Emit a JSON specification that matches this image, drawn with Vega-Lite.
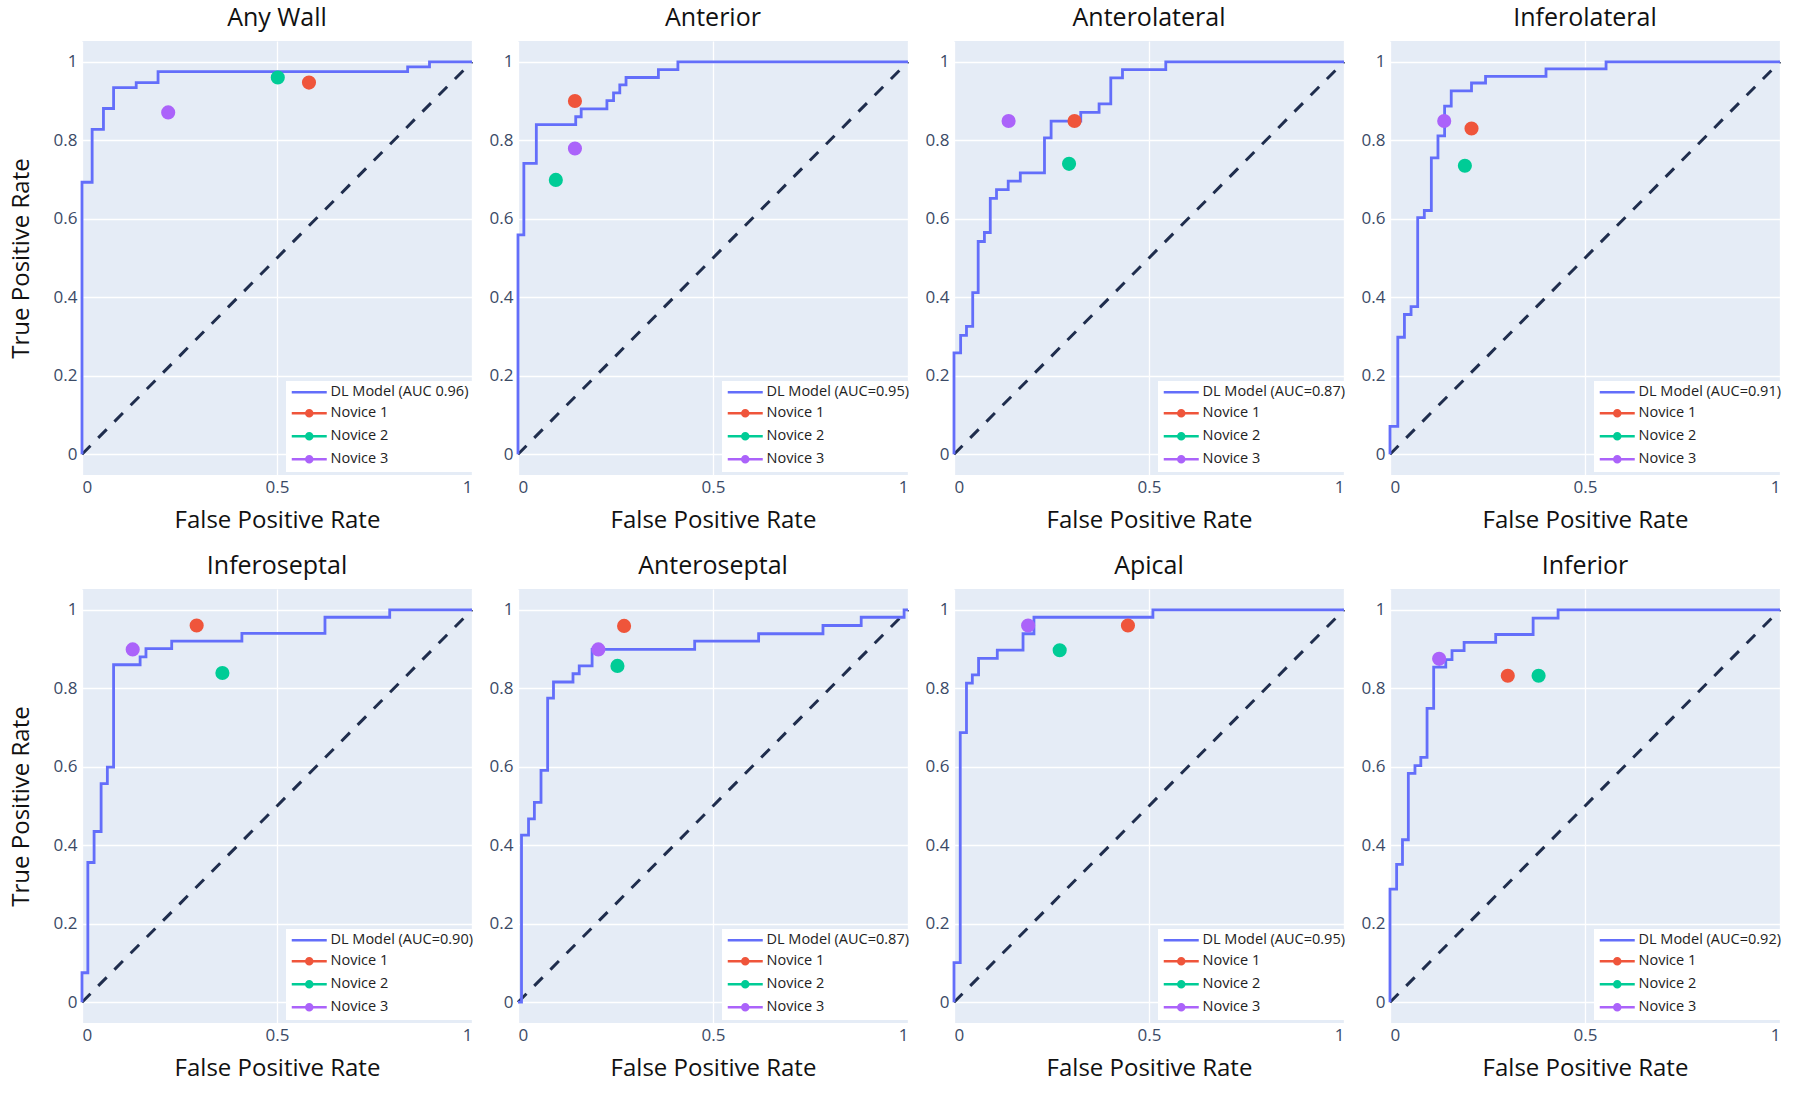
{
"$schema":"https://vega.github.io/schema/vega-lite/v6.json",
"background":"white",
"padding":{"left":9,"top":6,"right":5,"bottom":6},
"datasets":{
"diag":[{"x":0,"y":0},{"x":1,"y":1}],
"roc":[
{"p":"Any Wall","x":0,"y":0},{"p":"Any Wall","x":0,"y":0.693},{"p":"Any Wall","x":0.026,"y":0.693},{"p":"Any Wall","x":0.026,"y":0.828},{"p":"Any Wall","x":0.055,"y":0.828},{"p":"Any Wall","x":0.055,"y":0.881},{"p":"Any Wall","x":0.081,"y":0.881},{"p":"Any Wall","x":0.081,"y":0.934},{"p":"Any Wall","x":0.139,"y":0.934},{"p":"Any Wall","x":0.139,"y":0.947},{"p":"Any Wall","x":0.195,"y":0.947},{"p":"Any Wall","x":0.195,"y":0.975},{"p":"Any Wall","x":0.835,"y":0.975},{"p":"Any Wall","x":0.835,"y":0.987},{"p":"Any Wall","x":0.891,"y":0.987},{"p":"Any Wall","x":0.891,"y":1},{"p":"Any Wall","x":1,"y":1},
{"p":"Anterior","x":0,"y":0},{"p":"Anterior","x":0,"y":0.559},{"p":"Anterior","x":0.015,"y":0.559},{"p":"Anterior","x":0.015,"y":0.741},{"p":"Anterior","x":0.047,"y":0.741},{"p":"Anterior","x":0.047,"y":0.84},{"p":"Anterior","x":0.148,"y":0.84},{"p":"Anterior","x":0.148,"y":0.86},{"p":"Anterior","x":0.162,"y":0.86},{"p":"Anterior","x":0.162,"y":0.88},{"p":"Anterior","x":0.228,"y":0.88},{"p":"Anterior","x":0.228,"y":0.901},{"p":"Anterior","x":0.245,"y":0.901},{"p":"Anterior","x":0.245,"y":0.921},{"p":"Anterior","x":0.261,"y":0.921},{"p":"Anterior","x":0.261,"y":0.941},{"p":"Anterior","x":0.277,"y":0.941},{"p":"Anterior","x":0.277,"y":0.96},{"p":"Anterior","x":0.36,"y":0.96},{"p":"Anterior","x":0.36,"y":0.98},{"p":"Anterior","x":0.41,"y":0.98},{"p":"Anterior","x":0.41,"y":1},{"p":"Anterior","x":1,"y":1},
{"p":"Anterolateral","x":0,"y":0},{"p":"Anterolateral","x":0,"y":0.258},{"p":"Anterolateral","x":0.017,"y":0.258},{"p":"Anterolateral","x":0.017,"y":0.303},{"p":"Anterolateral","x":0.032,"y":0.303},{"p":"Anterolateral","x":0.032,"y":0.326},{"p":"Anterolateral","x":0.048,"y":0.326},{"p":"Anterolateral","x":0.048,"y":0.412},{"p":"Anterolateral","x":0.062,"y":0.412},{"p":"Anterolateral","x":0.062,"y":0.542},{"p":"Anterolateral","x":0.078,"y":0.542},{"p":"Anterolateral","x":0.078,"y":0.565},{"p":"Anterolateral","x":0.093,"y":0.565},{"p":"Anterolateral","x":0.093,"y":0.652},{"p":"Anterolateral","x":0.109,"y":0.652},{"p":"Anterolateral","x":0.109,"y":0.674},{"p":"Anterolateral","x":0.139,"y":0.674},{"p":"Anterolateral","x":0.139,"y":0.696},{"p":"Anterolateral","x":0.17,"y":0.696},{"p":"Anterolateral","x":0.17,"y":0.717},{"p":"Anterolateral","x":0.232,"y":0.717},{"p":"Anterolateral","x":0.232,"y":0.806},{"p":"Anterolateral","x":0.249,"y":0.806},{"p":"Anterolateral","x":0.249,"y":0.849},{"p":"Anterolateral","x":0.325,"y":0.849},{"p":"Anterolateral","x":0.325,"y":0.871},{"p":"Anterolateral","x":0.372,"y":0.871},{"p":"Anterolateral","x":0.372,"y":0.893},{"p":"Anterolateral","x":0.402,"y":0.893},{"p":"Anterolateral","x":0.402,"y":0.959},{"p":"Anterolateral","x":0.432,"y":0.959},{"p":"Anterolateral","x":0.432,"y":0.98},{"p":"Anterolateral","x":0.543,"y":0.98},{"p":"Anterolateral","x":0.543,"y":1},{"p":"Anterolateral","x":1,"y":1},
{"p":"Inferolateral","x":0,"y":0},{"p":"Inferolateral","x":0,"y":0.071},{"p":"Inferolateral","x":0.02,"y":0.071},{"p":"Inferolateral","x":0.02,"y":0.298},{"p":"Inferolateral","x":0.037,"y":0.298},{"p":"Inferolateral","x":0.037,"y":0.356},{"p":"Inferolateral","x":0.054,"y":0.356},{"p":"Inferolateral","x":0.054,"y":0.376},{"p":"Inferolateral","x":0.071,"y":0.376},{"p":"Inferolateral","x":0.071,"y":0.603},{"p":"Inferolateral","x":0.088,"y":0.603},{"p":"Inferolateral","x":0.088,"y":0.621},{"p":"Inferolateral","x":0.106,"y":0.621},{"p":"Inferolateral","x":0.106,"y":0.755},{"p":"Inferolateral","x":0.123,"y":0.755},{"p":"Inferolateral","x":0.123,"y":0.811},{"p":"Inferolateral","x":0.14,"y":0.811},{"p":"Inferolateral","x":0.14,"y":0.887},{"p":"Inferolateral","x":0.157,"y":0.887},{"p":"Inferolateral","x":0.157,"y":0.926},{"p":"Inferolateral","x":0.209,"y":0.926},{"p":"Inferolateral","x":0.209,"y":0.946},{"p":"Inferolateral","x":0.245,"y":0.946},{"p":"Inferolateral","x":0.245,"y":0.963},{"p":"Inferolateral","x":0.4,"y":0.963},{"p":"Inferolateral","x":0.4,"y":0.982},{"p":"Inferolateral","x":0.554,"y":0.982},{"p":"Inferolateral","x":0.554,"y":1},{"p":"Inferolateral","x":1,"y":1},
{"p":"Inferoseptal","x":0,"y":0},{"p":"Inferoseptal","x":0,"y":0.075},{"p":"Inferoseptal","x":0.015,"y":0.075},{"p":"Inferoseptal","x":0.015,"y":0.356},{"p":"Inferoseptal","x":0.031,"y":0.356},{"p":"Inferoseptal","x":0.031,"y":0.435},{"p":"Inferoseptal","x":0.049,"y":0.435},{"p":"Inferoseptal","x":0.049,"y":0.557},{"p":"Inferoseptal","x":0.065,"y":0.557},{"p":"Inferoseptal","x":0.065,"y":0.599},{"p":"Inferoseptal","x":0.081,"y":0.599},{"p":"Inferoseptal","x":0.081,"y":0.86},{"p":"Inferoseptal","x":0.149,"y":0.86},{"p":"Inferoseptal","x":0.149,"y":0.88},{"p":"Inferoseptal","x":0.164,"y":0.88},{"p":"Inferoseptal","x":0.164,"y":0.901},{"p":"Inferoseptal","x":0.23,"y":0.901},{"p":"Inferoseptal","x":0.23,"y":0.92},{"p":"Inferoseptal","x":0.41,"y":0.92},{"p":"Inferoseptal","x":0.41,"y":0.94},{"p":"Inferoseptal","x":0.623,"y":0.94},{"p":"Inferoseptal","x":0.623,"y":0.981},{"p":"Inferoseptal","x":0.789,"y":0.981},{"p":"Inferoseptal","x":0.789,"y":1},{"p":"Inferoseptal","x":1,"y":1},
{"p":"Anteroseptal","x":0,"y":0},{"p":"Anteroseptal","x":0.009,"y":0},{"p":"Anteroseptal","x":0.009,"y":0.426},{"p":"Anteroseptal","x":0.027,"y":0.426},{"p":"Anteroseptal","x":0.027,"y":0.467},{"p":"Anteroseptal","x":0.042,"y":0.467},{"p":"Anteroseptal","x":0.042,"y":0.509},{"p":"Anteroseptal","x":0.059,"y":0.509},{"p":"Anteroseptal","x":0.059,"y":0.591},{"p":"Anteroseptal","x":0.076,"y":0.591},{"p":"Anteroseptal","x":0.076,"y":0.775},{"p":"Anteroseptal","x":0.091,"y":0.775},{"p":"Anteroseptal","x":0.091,"y":0.816},{"p":"Anteroseptal","x":0.141,"y":0.816},{"p":"Anteroseptal","x":0.141,"y":0.837},{"p":"Anteroseptal","x":0.157,"y":0.837},{"p":"Anteroseptal","x":0.157,"y":0.857},{"p":"Anteroseptal","x":0.19,"y":0.857},{"p":"Anteroseptal","x":0.19,"y":0.899},{"p":"Anteroseptal","x":0.453,"y":0.899},{"p":"Anteroseptal","x":0.453,"y":0.92},{"p":"Anteroseptal","x":0.617,"y":0.92},{"p":"Anteroseptal","x":0.617,"y":0.939},{"p":"Anteroseptal","x":0.782,"y":0.939},{"p":"Anteroseptal","x":0.782,"y":0.96},{"p":"Anteroseptal","x":0.88,"y":0.96},{"p":"Anteroseptal","x":0.88,"y":0.981},{"p":"Anteroseptal","x":0.99,"y":0.981},{"p":"Anteroseptal","x":0.99,"y":1},{"p":"Anteroseptal","x":1,"y":1},
{"p":"Apical","x":0,"y":0},{"p":"Apical","x":0,"y":0.101},{"p":"Apical","x":0.016,"y":0.101},{"p":"Apical","x":0.016,"y":0.687},{"p":"Apical","x":0.032,"y":0.687},{"p":"Apical","x":0.032,"y":0.813},{"p":"Apical","x":0.047,"y":0.813},{"p":"Apical","x":0.047,"y":0.834},{"p":"Apical","x":0.063,"y":0.834},{"p":"Apical","x":0.063,"y":0.876},{"p":"Apical","x":0.111,"y":0.876},{"p":"Apical","x":0.111,"y":0.897},{"p":"Apical","x":0.177,"y":0.897},{"p":"Apical","x":0.177,"y":0.939},{"p":"Apical","x":0.205,"y":0.939},{"p":"Apical","x":0.205,"y":0.981},{"p":"Apical","x":0.51,"y":0.981},{"p":"Apical","x":0.51,"y":1},{"p":"Apical","x":1,"y":1},
{"p":"Inferior","x":0,"y":0},{"p":"Inferior","x":0,"y":0.288},{"p":"Inferior","x":0.017,"y":0.288},{"p":"Inferior","x":0.017,"y":0.351},{"p":"Inferior","x":0.032,"y":0.351},{"p":"Inferior","x":0.032,"y":0.414},{"p":"Inferior","x":0.047,"y":0.414},{"p":"Inferior","x":0.047,"y":0.583},{"p":"Inferior","x":0.064,"y":0.583},{"p":"Inferior","x":0.064,"y":0.603},{"p":"Inferior","x":0.079,"y":0.603},{"p":"Inferior","x":0.079,"y":0.624},{"p":"Inferior","x":0.095,"y":0.624},{"p":"Inferior","x":0.095,"y":0.749},{"p":"Inferior","x":0.112,"y":0.749},{"p":"Inferior","x":0.112,"y":0.854},{"p":"Inferior","x":0.143,"y":0.854},{"p":"Inferior","x":0.143,"y":0.873},{"p":"Inferior","x":0.159,"y":0.873},{"p":"Inferior","x":0.159,"y":0.896},{"p":"Inferior","x":0.19,"y":0.896},{"p":"Inferior","x":0.19,"y":0.917},{"p":"Inferior","x":0.271,"y":0.917},{"p":"Inferior","x":0.271,"y":0.937},{"p":"Inferior","x":0.367,"y":0.937},{"p":"Inferior","x":0.367,"y":0.979},{"p":"Inferior","x":0.431,"y":0.979},{"p":"Inferior","x":0.431,"y":1},{"p":"Inferior","x":1,"y":1}
],
"readers":[
{"p":"Any Wall","s":"Novice 1","x":0.582,"y":0.947},{"p":"Any Wall","s":"Novice 2","x":0.502,"y":0.96},{"p":"Any Wall","s":"Novice 3","x":0.221,"y":0.871},
{"p":"Anterior","s":"Novice 1","x":0.146,"y":0.9},{"p":"Anterior","s":"Novice 2","x":0.097,"y":0.699},{"p":"Anterior","s":"Novice 3","x":0.146,"y":0.779},
{"p":"Anterolateral","s":"Novice 1","x":0.309,"y":0.849},{"p":"Anterolateral","s":"Novice 2","x":0.295,"y":0.74},{"p":"Anterolateral","s":"Novice 3","x":0.14,"y":0.849},
{"p":"Inferolateral","s":"Novice 1","x":0.209,"y":0.83},{"p":"Inferolateral","s":"Novice 2","x":0.192,"y":0.735},{"p":"Inferolateral","s":"Novice 3","x":0.139,"y":0.849},
{"p":"Inferoseptal","s":"Novice 1","x":0.294,"y":0.96},{"p":"Inferoseptal","s":"Novice 2","x":0.36,"y":0.839},{"p":"Inferoseptal","s":"Novice 3","x":0.13,"y":0.899},
{"p":"Anteroseptal","s":"Novice 1","x":0.272,"y":0.959},{"p":"Anteroseptal","s":"Novice 2","x":0.255,"y":0.857},{"p":"Anteroseptal","s":"Novice 3","x":0.206,"y":0.899},
{"p":"Apical","s":"Novice 1","x":0.446,"y":0.96},{"p":"Apical","s":"Novice 2","x":0.271,"y":0.897},{"p":"Apical","s":"Novice 3","x":0.19,"y":0.96},
{"p":"Inferior","s":"Novice 1","x":0.302,"y":0.832},{"p":"Inferior","s":"Novice 2","x":0.381,"y":0.832},{"p":"Inferior","s":"Novice 3","x":0.126,"y":0.875}
]
},
"columns":4,
"spacing":{"row":114,"column":46},
"bounds":"flush",
"resolve":{"scale":{"color":"independent"},"legend":{"color":"independent"}},
"concat":[
{"width":390,"height":434,"title":"Any Wall",
"encoding":{"x":{"field":"x","type":"quantitative","scale":{"domain":[0,1],"nice":false},"axis":{"values":[0,0.5,1],"format":"~g","title":"False Positive Rate"}},"y":{"field":"y","type":"quantitative","scale":{"domain":[-0.053,1.053],"nice":false,"zero":false},"axis":{"values":[0,0.2,0.4,0.6,0.8,1],"format":"~g","title":"True Positive Rate"}}},
"layer":[
{"data":{"name":"diag"},"mark":{"type":"line","color":"#1f2d4d","strokeDash":[12,11],"strokeWidth":3},"encoding":{}},
{"data":{"name":"roc"},"transform":[{"filter":"datum.p=='Any Wall'"}],"mark":{"type":"line","strokeWidth":2.8},"encoding":{"order":[{"field":"x","type":"quantitative"},{"field":"y","type":"quantitative"}],"color":{"datum":"DL Model (AUC 0.96)","scale":{"domain":["DL Model (AUC 0.96)","Novice 1","Novice 2","Novice 3"],"range":["#636EFA","#EF553B","#00CC96","#AB63FA"]},"legend":{"title":null,"orient":"none","legendX":204,"legendY":340,"encode":{"symbols":{"update":{"shape":{"signal":"indexof(datum.value,'Novice')==0 ? 'M-3.5,0L3.5,0M0.6,0A0.6,0.6 0 1 1 -0.6,0A0.6,0.6 0 1 1 0.6,0Z' : 'M-3.5,0L3.5,0'"},"fill":{"signal":"datum.value=='Novice 1'?'#EF553B':datum.value=='Novice 2'?'#00CC96':datum.value=='Novice 3'?'#AB63FA':'transparent'"},"stroke":{"signal":"datum.value=='Novice 1'?'#EF553B':datum.value=='Novice 2'?'#00CC96':datum.value=='Novice 3'?'#AB63FA':'#636EFA'"},"opacity":{"value":1}}}}}}}},
{"data":{"name":"readers"},"transform":[{"filter":"datum.p=='Any Wall'"}],"mark":{"type":"circle","size":200,"opacity":1},"encoding":{"color":{"field":"s","type":"nominal","title":null,"scale":{"domain":["DL Model (AUC 0.96)","Novice 1","Novice 2","Novice 3"],"range":["#636EFA","#EF553B","#00CC96","#AB63FA"]},"legend":{"title":null,"orient":"none","legendX":204,"legendY":340}}}}
]},
{"width":390,"height":434,"title":"Anterior",
"encoding":{"x":{"field":"x","type":"quantitative","scale":{"domain":[0,1],"nice":false},"axis":{"values":[0,0.5,1],"format":"~g","title":"False Positive Rate"}},"y":{"field":"y","type":"quantitative","scale":{"domain":[-0.053,1.053],"nice":false,"zero":false},"axis":{"values":[0,0.2,0.4,0.6,0.8,1],"format":"~g","title":null}}},
"layer":[
{"data":{"name":"diag"},"mark":{"type":"line","color":"#1f2d4d","strokeDash":[12,11],"strokeWidth":3},"encoding":{}},
{"data":{"name":"roc"},"transform":[{"filter":"datum.p=='Anterior'"}],"mark":{"type":"line","strokeWidth":2.8},"encoding":{"order":[{"field":"x","type":"quantitative"},{"field":"y","type":"quantitative"}],"color":{"datum":"DL Model (AUC=0.95)","scale":{"domain":["DL Model (AUC=0.95)","Novice 1","Novice 2","Novice 3"],"range":["#636EFA","#EF553B","#00CC96","#AB63FA"]},"legend":{"title":null,"orient":"none","legendX":204,"legendY":340,"encode":{"symbols":{"update":{"shape":{"signal":"indexof(datum.value,'Novice')==0 ? 'M-3.5,0L3.5,0M0.6,0A0.6,0.6 0 1 1 -0.6,0A0.6,0.6 0 1 1 0.6,0Z' : 'M-3.5,0L3.5,0'"},"fill":{"signal":"datum.value=='Novice 1'?'#EF553B':datum.value=='Novice 2'?'#00CC96':datum.value=='Novice 3'?'#AB63FA':'transparent'"},"stroke":{"signal":"datum.value=='Novice 1'?'#EF553B':datum.value=='Novice 2'?'#00CC96':datum.value=='Novice 3'?'#AB63FA':'#636EFA'"},"opacity":{"value":1}}}}}}}},
{"data":{"name":"readers"},"transform":[{"filter":"datum.p=='Anterior'"}],"mark":{"type":"circle","size":200,"opacity":1},"encoding":{"color":{"field":"s","type":"nominal","title":null,"scale":{"domain":["DL Model (AUC=0.95)","Novice 1","Novice 2","Novice 3"],"range":["#636EFA","#EF553B","#00CC96","#AB63FA"]},"legend":{"title":null,"orient":"none","legendX":204,"legendY":340}}}}
]},
{"width":390,"height":434,"title":"Anterolateral",
"encoding":{"x":{"field":"x","type":"quantitative","scale":{"domain":[0,1],"nice":false},"axis":{"values":[0,0.5,1],"format":"~g","title":"False Positive Rate"}},"y":{"field":"y","type":"quantitative","scale":{"domain":[-0.053,1.053],"nice":false,"zero":false},"axis":{"values":[0,0.2,0.4,0.6,0.8,1],"format":"~g","title":null}}},
"layer":[
{"data":{"name":"diag"},"mark":{"type":"line","color":"#1f2d4d","strokeDash":[12,11],"strokeWidth":3},"encoding":{}},
{"data":{"name":"roc"},"transform":[{"filter":"datum.p=='Anterolateral'"}],"mark":{"type":"line","strokeWidth":2.8},"encoding":{"order":[{"field":"x","type":"quantitative"},{"field":"y","type":"quantitative"}],"color":{"datum":"DL Model (AUC=0.87)","scale":{"domain":["DL Model (AUC=0.87)","Novice 1","Novice 2","Novice 3"],"range":["#636EFA","#EF553B","#00CC96","#AB63FA"]},"legend":{"title":null,"orient":"none","legendX":204,"legendY":340,"encode":{"symbols":{"update":{"shape":{"signal":"indexof(datum.value,'Novice')==0 ? 'M-3.5,0L3.5,0M0.6,0A0.6,0.6 0 1 1 -0.6,0A0.6,0.6 0 1 1 0.6,0Z' : 'M-3.5,0L3.5,0'"},"fill":{"signal":"datum.value=='Novice 1'?'#EF553B':datum.value=='Novice 2'?'#00CC96':datum.value=='Novice 3'?'#AB63FA':'transparent'"},"stroke":{"signal":"datum.value=='Novice 1'?'#EF553B':datum.value=='Novice 2'?'#00CC96':datum.value=='Novice 3'?'#AB63FA':'#636EFA'"},"opacity":{"value":1}}}}}}}},
{"data":{"name":"readers"},"transform":[{"filter":"datum.p=='Anterolateral'"}],"mark":{"type":"circle","size":200,"opacity":1},"encoding":{"color":{"field":"s","type":"nominal","title":null,"scale":{"domain":["DL Model (AUC=0.87)","Novice 1","Novice 2","Novice 3"],"range":["#636EFA","#EF553B","#00CC96","#AB63FA"]},"legend":{"title":null,"orient":"none","legendX":204,"legendY":340}}}}
]},
{"width":390,"height":434,"title":"Inferolateral",
"encoding":{"x":{"field":"x","type":"quantitative","scale":{"domain":[0,1],"nice":false},"axis":{"values":[0,0.5,1],"format":"~g","title":"False Positive Rate"}},"y":{"field":"y","type":"quantitative","scale":{"domain":[-0.053,1.053],"nice":false,"zero":false},"axis":{"values":[0,0.2,0.4,0.6,0.8,1],"format":"~g","title":null}}},
"layer":[
{"data":{"name":"diag"},"mark":{"type":"line","color":"#1f2d4d","strokeDash":[12,11],"strokeWidth":3},"encoding":{}},
{"data":{"name":"roc"},"transform":[{"filter":"datum.p=='Inferolateral'"}],"mark":{"type":"line","strokeWidth":2.8},"encoding":{"order":[{"field":"x","type":"quantitative"},{"field":"y","type":"quantitative"}],"color":{"datum":"DL Model (AUC=0.91)","scale":{"domain":["DL Model (AUC=0.91)","Novice 1","Novice 2","Novice 3"],"range":["#636EFA","#EF553B","#00CC96","#AB63FA"]},"legend":{"title":null,"orient":"none","legendX":204,"legendY":340,"encode":{"symbols":{"update":{"shape":{"signal":"indexof(datum.value,'Novice')==0 ? 'M-3.5,0L3.5,0M0.6,0A0.6,0.6 0 1 1 -0.6,0A0.6,0.6 0 1 1 0.6,0Z' : 'M-3.5,0L3.5,0'"},"fill":{"signal":"datum.value=='Novice 1'?'#EF553B':datum.value=='Novice 2'?'#00CC96':datum.value=='Novice 3'?'#AB63FA':'transparent'"},"stroke":{"signal":"datum.value=='Novice 1'?'#EF553B':datum.value=='Novice 2'?'#00CC96':datum.value=='Novice 3'?'#AB63FA':'#636EFA'"},"opacity":{"value":1}}}}}}}},
{"data":{"name":"readers"},"transform":[{"filter":"datum.p=='Inferolateral'"}],"mark":{"type":"circle","size":200,"opacity":1},"encoding":{"color":{"field":"s","type":"nominal","title":null,"scale":{"domain":["DL Model (AUC=0.91)","Novice 1","Novice 2","Novice 3"],"range":["#636EFA","#EF553B","#00CC96","#AB63FA"]},"legend":{"title":null,"orient":"none","legendX":204,"legendY":340}}}}
]},
{"width":390,"height":434,"title":"Inferoseptal",
"encoding":{"x":{"field":"x","type":"quantitative","scale":{"domain":[0,1],"nice":false},"axis":{"values":[0,0.5,1],"format":"~g","title":"False Positive Rate"}},"y":{"field":"y","type":"quantitative","scale":{"domain":[-0.053,1.053],"nice":false,"zero":false},"axis":{"values":[0,0.2,0.4,0.6,0.8,1],"format":"~g","title":"True Positive Rate"}}},
"layer":[
{"data":{"name":"diag"},"mark":{"type":"line","color":"#1f2d4d","strokeDash":[12,11],"strokeWidth":3},"encoding":{}},
{"data":{"name":"roc"},"transform":[{"filter":"datum.p=='Inferoseptal'"}],"mark":{"type":"line","strokeWidth":2.8},"encoding":{"order":[{"field":"x","type":"quantitative"},{"field":"y","type":"quantitative"}],"color":{"datum":"DL Model (AUC=0.90)","scale":{"domain":["DL Model (AUC=0.90)","Novice 1","Novice 2","Novice 3"],"range":["#636EFA","#EF553B","#00CC96","#AB63FA"]},"legend":{"title":null,"orient":"none","legendX":204,"legendY":340,"encode":{"symbols":{"update":{"shape":{"signal":"indexof(datum.value,'Novice')==0 ? 'M-3.5,0L3.5,0M0.6,0A0.6,0.6 0 1 1 -0.6,0A0.6,0.6 0 1 1 0.6,0Z' : 'M-3.5,0L3.5,0'"},"fill":{"signal":"datum.value=='Novice 1'?'#EF553B':datum.value=='Novice 2'?'#00CC96':datum.value=='Novice 3'?'#AB63FA':'transparent'"},"stroke":{"signal":"datum.value=='Novice 1'?'#EF553B':datum.value=='Novice 2'?'#00CC96':datum.value=='Novice 3'?'#AB63FA':'#636EFA'"},"opacity":{"value":1}}}}}}}},
{"data":{"name":"readers"},"transform":[{"filter":"datum.p=='Inferoseptal'"}],"mark":{"type":"circle","size":200,"opacity":1},"encoding":{"color":{"field":"s","type":"nominal","title":null,"scale":{"domain":["DL Model (AUC=0.90)","Novice 1","Novice 2","Novice 3"],"range":["#636EFA","#EF553B","#00CC96","#AB63FA"]},"legend":{"title":null,"orient":"none","legendX":204,"legendY":340}}}}
]},
{"width":390,"height":434,"title":"Anteroseptal",
"encoding":{"x":{"field":"x","type":"quantitative","scale":{"domain":[0,1],"nice":false},"axis":{"values":[0,0.5,1],"format":"~g","title":"False Positive Rate"}},"y":{"field":"y","type":"quantitative","scale":{"domain":[-0.053,1.053],"nice":false,"zero":false},"axis":{"values":[0,0.2,0.4,0.6,0.8,1],"format":"~g","title":null}}},
"layer":[
{"data":{"name":"diag"},"mark":{"type":"line","color":"#1f2d4d","strokeDash":[12,11],"strokeWidth":3},"encoding":{}},
{"data":{"name":"roc"},"transform":[{"filter":"datum.p=='Anteroseptal'"}],"mark":{"type":"line","strokeWidth":2.8},"encoding":{"order":[{"field":"x","type":"quantitative"},{"field":"y","type":"quantitative"}],"color":{"datum":"DL Model (AUC=0.87)","scale":{"domain":["DL Model (AUC=0.87)","Novice 1","Novice 2","Novice 3"],"range":["#636EFA","#EF553B","#00CC96","#AB63FA"]},"legend":{"title":null,"orient":"none","legendX":204,"legendY":340,"encode":{"symbols":{"update":{"shape":{"signal":"indexof(datum.value,'Novice')==0 ? 'M-3.5,0L3.5,0M0.6,0A0.6,0.6 0 1 1 -0.6,0A0.6,0.6 0 1 1 0.6,0Z' : 'M-3.5,0L3.5,0'"},"fill":{"signal":"datum.value=='Novice 1'?'#EF553B':datum.value=='Novice 2'?'#00CC96':datum.value=='Novice 3'?'#AB63FA':'transparent'"},"stroke":{"signal":"datum.value=='Novice 1'?'#EF553B':datum.value=='Novice 2'?'#00CC96':datum.value=='Novice 3'?'#AB63FA':'#636EFA'"},"opacity":{"value":1}}}}}}}},
{"data":{"name":"readers"},"transform":[{"filter":"datum.p=='Anteroseptal'"}],"mark":{"type":"circle","size":200,"opacity":1},"encoding":{"color":{"field":"s","type":"nominal","title":null,"scale":{"domain":["DL Model (AUC=0.87)","Novice 1","Novice 2","Novice 3"],"range":["#636EFA","#EF553B","#00CC96","#AB63FA"]},"legend":{"title":null,"orient":"none","legendX":204,"legendY":340}}}}
]},
{"width":390,"height":434,"title":"Apical",
"encoding":{"x":{"field":"x","type":"quantitative","scale":{"domain":[0,1],"nice":false},"axis":{"values":[0,0.5,1],"format":"~g","title":"False Positive Rate"}},"y":{"field":"y","type":"quantitative","scale":{"domain":[-0.053,1.053],"nice":false,"zero":false},"axis":{"values":[0,0.2,0.4,0.6,0.8,1],"format":"~g","title":null}}},
"layer":[
{"data":{"name":"diag"},"mark":{"type":"line","color":"#1f2d4d","strokeDash":[12,11],"strokeWidth":3},"encoding":{}},
{"data":{"name":"roc"},"transform":[{"filter":"datum.p=='Apical'"}],"mark":{"type":"line","strokeWidth":2.8},"encoding":{"order":[{"field":"x","type":"quantitative"},{"field":"y","type":"quantitative"}],"color":{"datum":"DL Model (AUC=0.95)","scale":{"domain":["DL Model (AUC=0.95)","Novice 1","Novice 2","Novice 3"],"range":["#636EFA","#EF553B","#00CC96","#AB63FA"]},"legend":{"title":null,"orient":"none","legendX":204,"legendY":340,"encode":{"symbols":{"update":{"shape":{"signal":"indexof(datum.value,'Novice')==0 ? 'M-3.5,0L3.5,0M0.6,0A0.6,0.6 0 1 1 -0.6,0A0.6,0.6 0 1 1 0.6,0Z' : 'M-3.5,0L3.5,0'"},"fill":{"signal":"datum.value=='Novice 1'?'#EF553B':datum.value=='Novice 2'?'#00CC96':datum.value=='Novice 3'?'#AB63FA':'transparent'"},"stroke":{"signal":"datum.value=='Novice 1'?'#EF553B':datum.value=='Novice 2'?'#00CC96':datum.value=='Novice 3'?'#AB63FA':'#636EFA'"},"opacity":{"value":1}}}}}}}},
{"data":{"name":"readers"},"transform":[{"filter":"datum.p=='Apical'"}],"mark":{"type":"circle","size":200,"opacity":1},"encoding":{"color":{"field":"s","type":"nominal","title":null,"scale":{"domain":["DL Model (AUC=0.95)","Novice 1","Novice 2","Novice 3"],"range":["#636EFA","#EF553B","#00CC96","#AB63FA"]},"legend":{"title":null,"orient":"none","legendX":204,"legendY":340}}}}
]},
{"width":390,"height":434,"title":"Inferior",
"encoding":{"x":{"field":"x","type":"quantitative","scale":{"domain":[0,1],"nice":false},"axis":{"values":[0,0.5,1],"format":"~g","title":"False Positive Rate"}},"y":{"field":"y","type":"quantitative","scale":{"domain":[-0.053,1.053],"nice":false,"zero":false},"axis":{"values":[0,0.2,0.4,0.6,0.8,1],"format":"~g","title":null}}},
"layer":[
{"data":{"name":"diag"},"mark":{"type":"line","color":"#1f2d4d","strokeDash":[12,11],"strokeWidth":3},"encoding":{}},
{"data":{"name":"roc"},"transform":[{"filter":"datum.p=='Inferior'"}],"mark":{"type":"line","strokeWidth":2.8},"encoding":{"order":[{"field":"x","type":"quantitative"},{"field":"y","type":"quantitative"}],"color":{"datum":"DL Model (AUC=0.92)","scale":{"domain":["DL Model (AUC=0.92)","Novice 1","Novice 2","Novice 3"],"range":["#636EFA","#EF553B","#00CC96","#AB63FA"]},"legend":{"title":null,"orient":"none","legendX":204,"legendY":340,"encode":{"symbols":{"update":{"shape":{"signal":"indexof(datum.value,'Novice')==0 ? 'M-3.5,0L3.5,0M0.6,0A0.6,0.6 0 1 1 -0.6,0A0.6,0.6 0 1 1 0.6,0Z' : 'M-3.5,0L3.5,0'"},"fill":{"signal":"datum.value=='Novice 1'?'#EF553B':datum.value=='Novice 2'?'#00CC96':datum.value=='Novice 3'?'#AB63FA':'transparent'"},"stroke":{"signal":"datum.value=='Novice 1'?'#EF553B':datum.value=='Novice 2'?'#00CC96':datum.value=='Novice 3'?'#AB63FA':'#636EFA'"},"opacity":{"value":1}}}}}}}},
{"data":{"name":"readers"},"transform":[{"filter":"datum.p=='Inferior'"}],"mark":{"type":"circle","size":200,"opacity":1},"encoding":{"color":{"field":"s","type":"nominal","title":null,"scale":{"domain":["DL Model (AUC=0.92)","Novice 1","Novice 2","Novice 3"],"range":["#636EFA","#EF553B","#00CC96","#AB63FA"]},"legend":{"title":null,"orient":"none","legendX":204,"legendY":340}}}}
]}
],
"config":{
"font":"Open Sans",
"view":{"fill":"#E5ECF6","stroke":null},
"title":{"font":"Open Sans","fontSize":25,"fontWeight":"normal","color":"#111111","offset":10},
"axis":{"domain":false,"ticks":false,"gridColor":"#ffffff","gridWidth":1.3,"labelFont":"Open Sans","labelFontSize":17,"labelColor":"#3b4a66","titleFont":"Open Sans","titleFontSize":24,"titleFontWeight":"normal","titleColor":"#111111"},
"axisX":{"labelPadding":4,"titlePadding":13},
"axisY":{"labelPadding":5,"titlePadding":20},
"legend":{"fillColor":"#ffffff","padding":4,"labelFont":"Open Sans","labelFontSize":14.5,"labelColor":"#222222","labelLimit":300,"symbolSize":100,"symbolStrokeWidth":2.5,"symbolOffset":12,"labelOffset":14,"rowPadding":6}
}
}
